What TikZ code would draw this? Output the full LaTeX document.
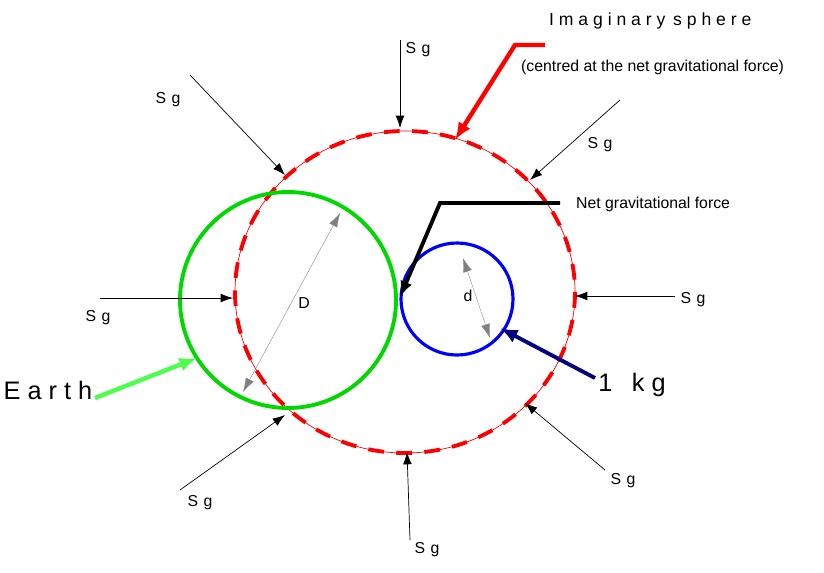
\documentclass[tikz,border=0pt]{standalone}
\usepackage{fontspec}
\setmainfont{Liberation Sans}
\usetikzlibrary{arrows.meta}
\tikzset{force/.style={-{Latex[length=7pt,width=5pt]},thin},
	lab/.style={font=\small},
	dia/.style={gray,{Latex[length=8pt,width=5pt]}-{Latex[length=8pt,width=5pt]},very thin}}
\begin{document}
\begin{tikzpicture}[x=0.02cm,y=-0.02cm]
	\useasboundingbox (0,0) rectangle (824,572);
	% imaginary sphere
	\draw[red,thin](405,292) ellipse [x radius=170,y radius=161];
	\draw[red,line width=2.2pt,dash pattern=on 9pt off 7pt](405,292) ellipse [x radius=170,y radius=161];
	% earth and mass
	\draw[green!85!black,line width=2.2pt](288,300) circle [radius=108];
	\draw[blue,line width=1.8pt](457,299) circle [radius=56];
	\coordinate (dA) at (243,392); \coordinate (dB) at (340,213);
	\draw[dia](dA)--(dB);
	\node[lab] (D) at (304,303) {D};
	\coordinate (ea) at (463,258); \coordinate (eb) at (490,338);
	\draw[dia](ea)--(eb);
	\node[lab] (d) at (468,296) {d};
	% surrounding forces
	\foreach \sx/\sy/\ex/\ey/\lx/\ly in {400/40/400/128/418/50, 190/75/285/175/168/100,
		620/100/530/180/600/145, 100/298/233/298/98/318, 675/296/575/296/693/300,
		180/490/285/415/200/503, 410/540/407/452/427/550, 605/470/525/403/623/481}
	{
		\draw[force](\sx,\sy)--(\ex,\ey);
		\node[lab] at (\lx,\ly) {S\,\,g};
	}
	% net force
	\coordinate (nf1) at (560,203); \coordinate (nf2) at (440,203); \coordinate (nf3) at (400,297);
	\draw[line width=2.2pt,-{Latex[length=9pt,width=7pt]}](nf1)--(nf2)--(nf3);
	\node[lab,anchor=west] (net) at (570,204) {Net gravitational force};
	% imaginary sphere label
	\coordinate (is1) at (545,45); \coordinate (is2) at (515,45); \coordinate (is3) at (455,140);
	\draw[red,line width=2.5pt,-{Latex[length=10pt,width=8pt]}](is1)--(is2)--(is3);
	\node[anchor=west] (sph) at (543,21) {I m a g i n a r y\, s p h e r e};
	\node[anchor=west,font=\small] (cen) at (515,67) {(centred at the net gravitational force)};
	% earth
	\coordinate (ea1) at (95,398); \coordinate (ea2) at (197,358);
	\draw[green!70,line width=2.5pt,-{Latex[length=10pt,width=8pt]}](ea1)--(ea2);
	\node[font=\Large] (earth) at (48,390) {E a r t h};
	% 1 kg
	\coordinate (kg1) at (595,378); \coordinate (kg2) at (500,328);
	\draw[blue!50!black,line width=2.2pt,-{Latex[length=10pt,width=8pt]}](kg1)--(kg2);
	\node[font=\Large] (kg) at (632,385) {1\,\,\, k g};
\end{tikzpicture}
\end{document}
